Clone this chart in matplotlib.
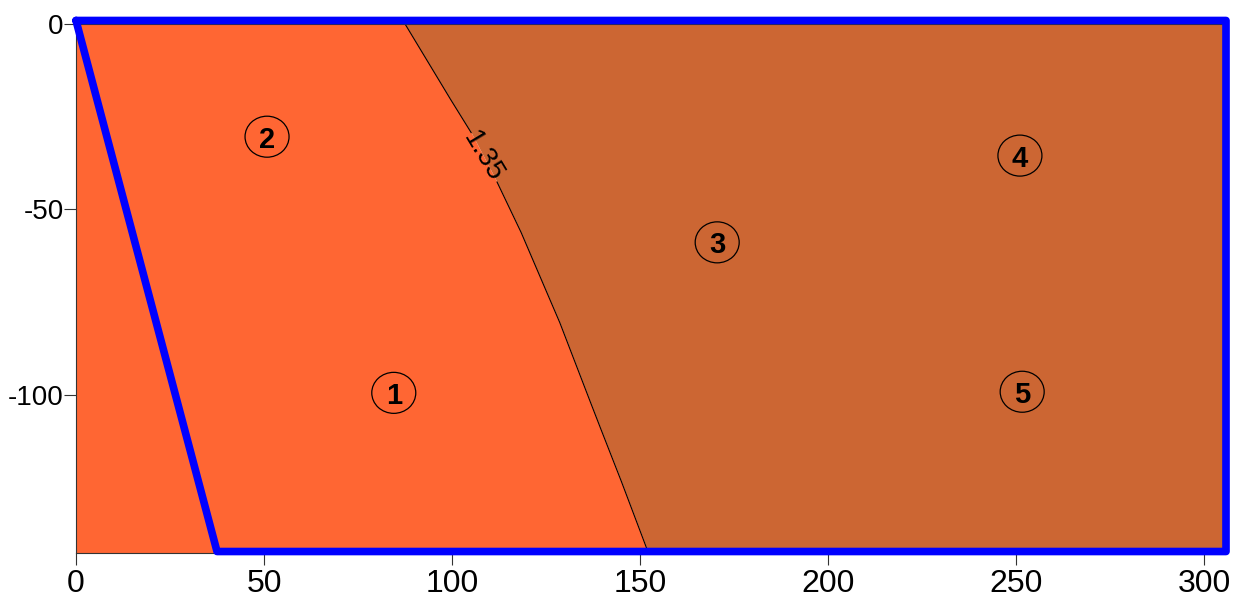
import numpy as np
import matplotlib
matplotlib.use("Agg")
import matplotlib.pyplot as plt
from matplotlib.patches import Ellipse

plt.rcParams['font.family'] = ['Liberation Sans', 'DejaVu Sans']

# contour 1.35 boundary (x, y)
contour_x = [87.5, 99.7, 105.2, 111.9, 118.1, 123.4, 128.4, 133.2, 138.3,
             144.2, 151.8, 152.2]
contour_y = [0.0, -20.5, -29.5, -42.5, -55.6, -68.2, -79.9, -92.5, -106.0,
             -121.2, -141.5, -142.7]
contour_level = "1.35"

# blue slope polygon
slope_x = [0.0, 305.8, 305.8, 37.5, 0.0]
slope_y = [0.95, 0.95, -142.3, -142.3, 0.95]

# region labels
region_ids = ["1", "2", "3", "4", "5"]
region_x = [84.5, 50.8, 170.5, 251.0, 251.6]
region_y = [-99.5, -30.4, -58.9, -35.5, -99.2]

x_ticks = [0, 50, 100, 150, 200, 250, 300]
y_ticks = [0, -50, -100]

xmin, xmax = 0, 305.0
ymin, ymax = -142.7, 0

light = "#FF6633"
dark = "#CC6633"

fig = plt.figure(figsize=(12.4, 6.04), dpi=100)
ax = fig.add_axes([76/1240, 1-553/604, (1223-76)/1240, (553-24)/604])

cy = np.array(contour_y)
cx = np.array(contour_x)
ax.fill_betweenx(cy, xmin, cx, color=light, lw=0)
ax.fill_betweenx(cy, cx, xmax, color=dark, lw=0)

# contour line with gap for label
t_y = np.linspace(ymax, ymin, 600)
t_x = np.interp(-t_y, -cy, cx)
gap_top, gap_bot = -29.5, -42.5
m1 = t_y >= gap_top
m2 = t_y <= gap_bot
ax.plot(t_x[m1], t_y[m1], color="black", lw=0.8)
ax.plot(t_x[m2], t_y[m2], color="black", lw=0.8)
lab_y = -35.8
lab_x = 108.3
ax.text(lab_x, lab_y, contour_level, rotation=-59, ha="center", va="center",
        fontsize=20, rotation_mode="anchor")

ax.plot(slope_x, slope_y, color="#0000FF", lw=5.5, clip_on=False,
        solid_joinstyle="round", solid_capstyle="round", zorder=5)

# circled labels: ellipse size in data units from pixel size
pxx = (1223-76) / (xmax - xmin)
pxy = (553-24) / (ymax - ymin)
for lid, lx, ly in zip(region_ids, region_x, region_y):
    ax.add_patch(Ellipse((lx, ly), 44/pxx, 41/pxy, fill=False, ec="black", lw=0.9))
    ax.text(lx, ly - 0.8, lid, ha="center", va="center", fontsize=21, fontweight="bold")

ax.set_xlim(xmin, xmax)
ax.set_ylim(ymin, ymax)
ax.set_xticks(x_ticks)
ax.set_xticklabels([str(v) for v in x_ticks], fontsize=23)
ax.set_yticks(y_ticks)
ax.set_yticklabels([str(v) for v in y_ticks], fontsize=20)
ax.tick_params(axis="both", length=8.8, width=0.8, color="#333333")
ax.tick_params(axis="y", pad=0)
ax.tick_params(axis="x", pad=3)
for s in ax.spines.values():
    s.set_linewidth(0.8)
    s.set_color("#333333")

fig.savefig("out.png", dpi=100)
